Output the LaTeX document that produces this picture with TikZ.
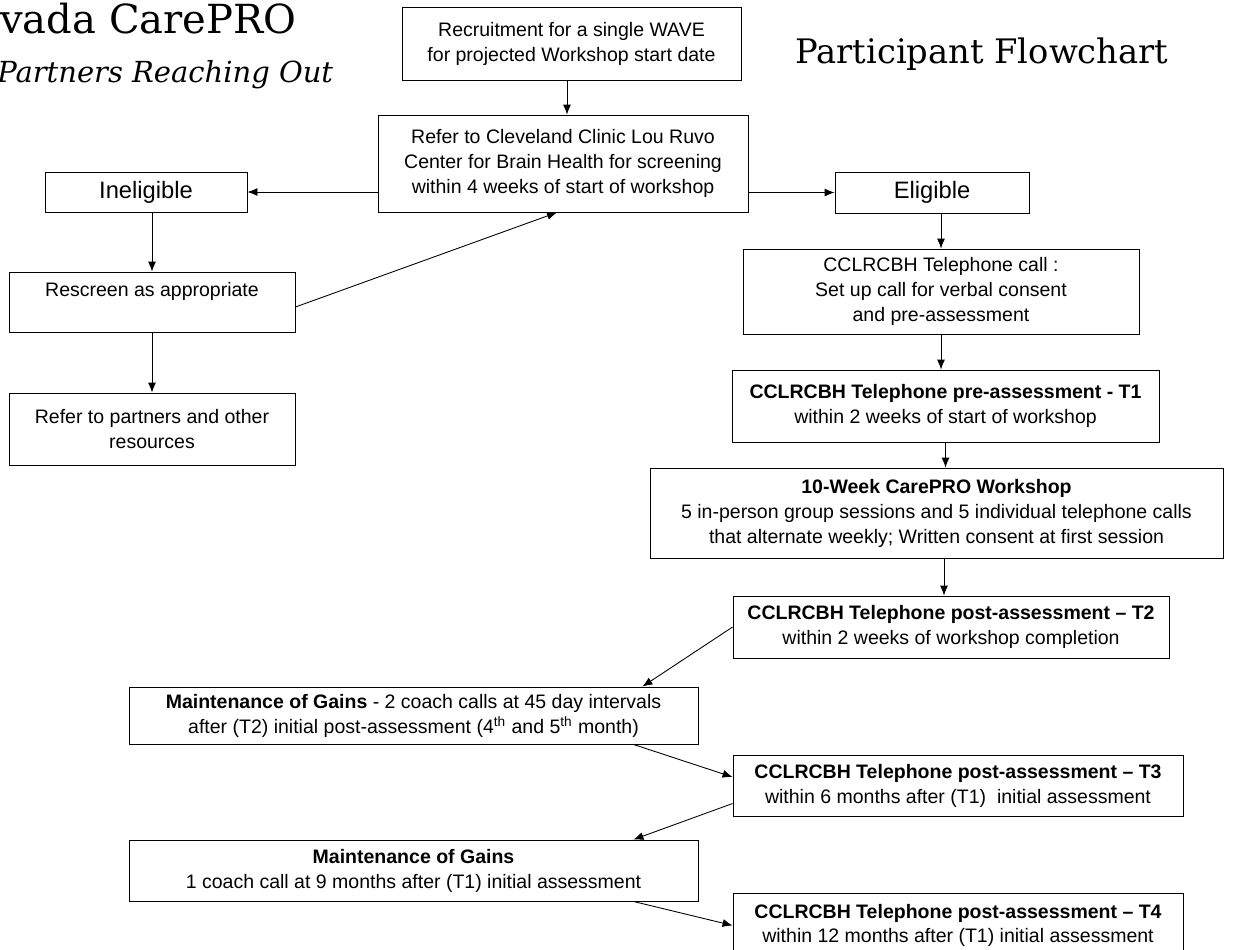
\documentclass[tikz,border=0pt]{standalone}
\usepackage{fontspec}
\newfontfamily\arialfont{Liberation Sans}
\newfontfamily\titlefont{DejaVu Serif}
\usepackage{tikz}
\usetikzlibrary{arrows.meta}

\begin{document}
\begin{tikzpicture}[x=1cm,y=1cm,
	box/.style={draw,line width=0.5pt,align=center,inner sep=2pt,font=\arialfont\fontsize{11.1}{14.2}\selectfont},
	bigbox/.style={box,font=\arialfont\fontsize{13.5}{16}\selectfont},
	flow/.style={arrows={-Latex[length=2mm,width=1.6mm]},line width=0.5pt},
	title/.style={anchor=base west,inner sep=0pt}]

	%% page size of the scan
	\useasboundingbox (0,0) rectangle (24.74,-18.98);

	% titles
	\node[title,font=\titlefont\fontsize{22.8}{26}\selectfont] (name) at (0,-0.66) {vada CarePRO};
	\node[title,font=\titlefont\fontsize{16.5}{20}\selectfont\itshape] (motto) at (-0.06,-1.64) {Partners Reaching Out};
	\node[title,font=\titlefont\fontsize{19.2}{23}\selectfont] (head) at (15.9,-1.26) {Participant Flowchart};

	% screening part
	\node[box,minimum width=6.78cm,minimum height=1.46cm] (recruit) at (11.43,-0.87)
		{Recruitment for a single WAVE\\for projected Workshop start date};
	\node[box,minimum width=7.40cm,minimum height=1.94cm] (refer) at (11.26,-3.27)
		{Refer to Cleveland Clinic Lou Ruvo\\Center for Brain Health for screening\\within 4 weeks of start of workshop};
	\node[bigbox,minimum width=4.04cm,minimum height=0.80cm] (inel) at (2.92,-3.84) {Ineligible};
	\node[bigbox,minimum width=3.88cm,minimum height=0.82cm] (elig) at (18.64,-3.85) {Eligible};
	\node[box,minimum width=5.72cm,minimum height=1.20cm] (rescreen) at (3.04,-6.04)
		{Rescreen as appropriate\\\mbox{}};
	\node[box,minimum width=5.72cm,minimum height=1.44cm] (partners) at (3.04,-8.58)
		{Refer to partners and other\\resources};

	% eligible branch
	\node[box,minimum width=7.92cm,minimum height=1.70cm] (call) at (18.82,-5.83)
		{CCLRCBH Telephone call :\\Set up call for verbal consent\\and pre-assessment};
	\node[box,minimum width=8.54cm,minimum height=1.44cm] (tone) at (18.91,-8.12)
		{\textbf{CCLRCBH Telephone pre-assessment - T1}\\within 2 weeks of start of workshop};
	\node[box,minimum width=11.46cm,minimum height=1.80cm] (workshop) at (18.73,-10.26)
		{\textbf{10-Week CarePRO Workshop}\\5 in-person group sessions and 5 individual telephone calls\\that alternate weekly; Written consent at first session};
	\node[box,minimum width=8.72cm,minimum height=1.24cm] (ttwo) at (19.02,-12.54)
		{\textbf{CCLRCBH Telephone post-assessment – T2}\\within 2 weeks of workshop completion};

	% follow up
	\node[box,minimum width=11.38cm,minimum height=1.14cm] (mainone) at (8.27,-14.31)
		{\textbf{Maintenance of Gains} - 2 coach calls at 45 day intervals\\after (T2) initial post-assessment (4\textsuperscript{th} and 5\textsuperscript{th} month)};
	\node[box,minimum width=9.0cm,minimum height=1.22cm] (tthree) at (19.16,-15.71)
		{\textbf{CCLRCBH Telephone post-assessment – T3}\\within 6 months after (T1)\ \ initial assessment};
	\node[box,minimum width=11.38cm,minimum height=1.22cm] (maintwo) at (8.27,-17.41)
		{\textbf{Maintenance of Gains}\\1 coach call at 9 months after (T1) initial assessment};
	\node[box,minimum width=9.0cm,minimum height=1.28cm,anchor=north] (tfour) at (19.16,-17.86)
		{\textbf{CCLRCBH Telephone post-assessment – T4}\\within 12 months after (T1) initial assessment};

	% connectors
	\draw[flow] ([xshift=-0.09cm]recruit.south) -- ([xshift=-0.09cm]recruit.south |- refer.north);
	\draw[flow] (refer.west |- inel.east) -- (inel.east);
	\draw[flow] (refer.east |- elig.west) -- (elig.west);
	\draw[flow] (rescreen.north |- inel.south) -- (rescreen.north);
	\draw[flow] (rescreen) -- (partners);
	\draw[flow] ([yshift=-0.1cm]rescreen.east) -- ([xshift=-0.12cm]refer.south);
	\draw[flow] (call.north |- elig.south) -- (call.north);
	\draw[flow] (call.south) -- (call.south |- tone.north);
	\draw[flow] (tone.south) -- (tone.south |- workshop.north);
	\draw[flow] ([xshift=0.15cm]workshop.south) -- ([xshift=0.15cm]workshop.south |- ttwo.north);
	\draw[flow] (ttwo.west) -- ([xshift=-1.12cm]mainone.north east);
	\draw[flow] ([xshift=-1.3cm]mainone.south east) -- ([yshift=0.17cm]tthree.west);
	\draw[flow] ([yshift=-0.36cm]tthree.west) -- ([xshift=-1.3cm]maintwo.north east);
	\draw[flow] ([xshift=-1.3cm]maintwo.south east) -- (tfour.west);

\end{tikzpicture}
\end{document}
